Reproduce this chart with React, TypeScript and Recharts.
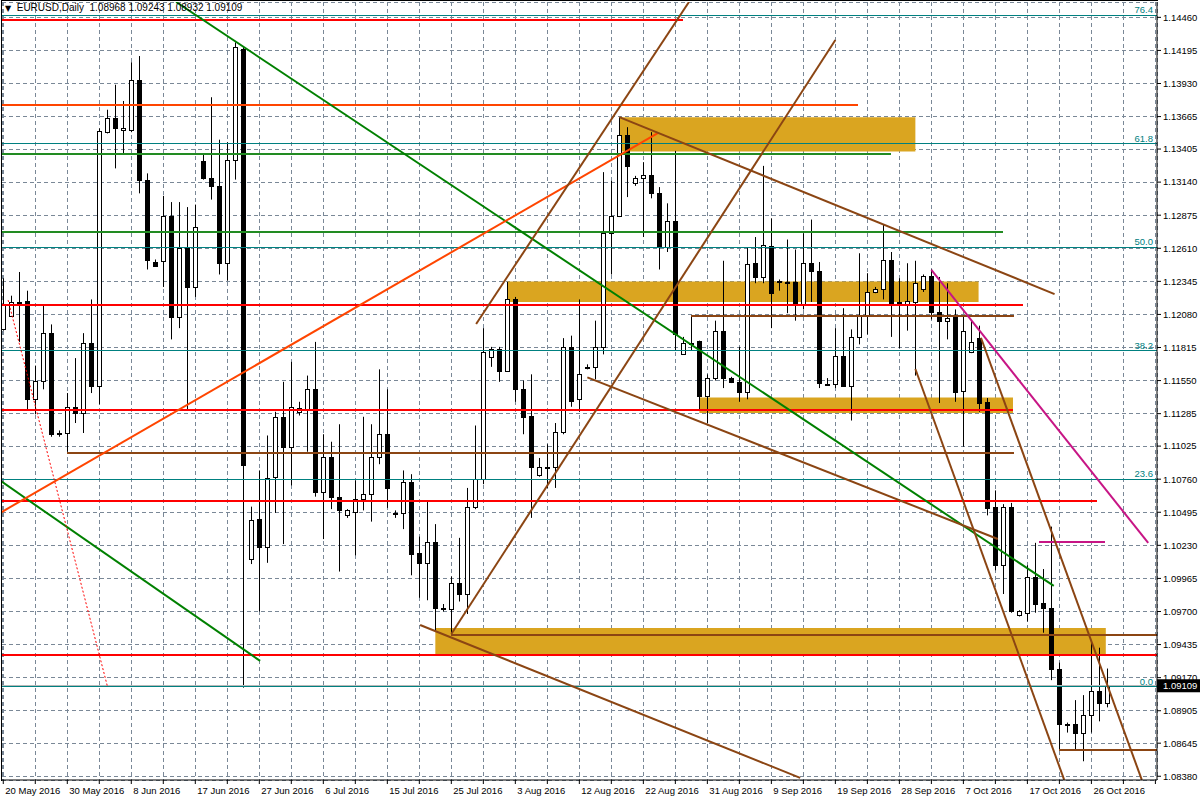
import React from 'react'
import { ComposedChart, Bar, XAxis, YAxis, CartesianGrid, ReferenceLine, ReferenceArea } from 'recharts'

// daily bars, 20 May 2016 .. 28 Oct 2016 (MT4 with Sunday bars)
const opens = [
   1.1196, 1.1207, 1.1218, 1.1219, 1.1140, 1.1155, 1.1193, 1.1112, 1.1113, 1.1134,
   1.1129, 1.1185, 1.1151, 1.1354, 1.1365, 1.1356, 1.1356, 1.1396, 1.1316, 1.1250,
   1.1251, 1.1287, 1.1206, 1.1261, 1.1230, 1.1331, 1.1317, 1.1311, 1.1249, 1.1332,
   1.1421, 1.1012, 1.1044, 1.1022, 1.1078, 1.1126, 1.1102, 1.1130, 1.1132, 1.1148,
   1.1066, 1.1094, 1.1062, 1.1047, 1.1050, 1.1060, 1.1064, 1.1094, 1.1112, 1.1049,
   1.1049, 1.1074, 1.1017, 1.1009, 1.1026, 1.0973, 1.0972, 1.0993, 1.0984, 1.1054,
   1.1076, 1.1174, 1.1180, 1.1163, 1.1220, 1.1148, 1.1127, 1.1079, 1.1085, 1.1086,
   1.1114, 1.1182, 1.1140, 1.1166, 1.1166, 1.1182, 1.1273, 1.1287, 1.1352, 1.1313,
   1.1317, 1.1320, 1.1305, 1.1262, 1.1283, 1.1176, 1.1185, 1.1187, 1.1143, 1.1157,
   1.1195, 1.1157, 1.1154, 1.1146, 1.1249, 1.1238, 1.1263, 1.1234, 1.1234, 1.1234,
   1.1216, 1.1249, 1.1243, 1.1152, 1.1152, 1.1175, 1.1151, 1.1190, 1.1207, 1.1226,
   1.1228, 1.1252, 1.1218, 1.1216, 1.1218, 1.1228, 1.1239, 1.1210, 1.1203, 1.1206,
   1.1147, 1.1178, 1.1189, 1.1138, 1.1054, 1.1007, 1.1054, 1.0967, 1.0969, 1.0998,
   1.0977, 1.0973, 1.0924, 1.0880, 1.0880, 1.0873, 1.0887, 1.0906, 1.08968,
]
const highs = [
   1.1237, 1.1223, 1.1242, 1.1227, 1.1167, 1.1215, 1.1200, 1.1115, 1.1145, 1.1173,
   1.1193, 1.1220, 1.1357, 1.1372, 1.1392, 1.1379, 1.1410, 1.1415, 1.1321, 1.1252,
   1.1303, 1.1298, 1.1298, 1.1294, 1.1296, 1.1336, 1.1382, 1.1348, 1.1346, 1.1426,
   1.1423, 1.1054, 1.1083, 1.1111, 1.1130, 1.1154, 1.1170, 1.1138, 1.1159, 1.1186,
   1.1112, 1.1106, 1.1120, 1.1052, 1.1075, 1.1126, 1.1120, 1.1164, 1.1148, 1.1051,
   1.1083, 1.1080, 1.1030, 1.1058, 1.1040, 1.0976, 1.0998, 1.1029, 1.1069, 1.1119,
   1.1197, 1.1182, 1.1182, 1.1234, 1.1222, 1.1155, 1.1160, 1.1093, 1.1104, 1.1121,
   1.1189, 1.1191, 1.1220, 1.1168, 1.1203, 1.1322, 1.1315, 1.1366, 1.1358, 1.1319,
   1.1330, 1.1354, 1.1310, 1.1297, 1.1339, 1.1190, 1.1207, 1.1187, 1.1160, 1.1203,
   1.1251, 1.1158, 1.1182, 1.1262, 1.1270, 1.1327, 1.1285, 1.1236, 1.1268, 1.1260,
   1.1273, 1.1284, 1.1250, 1.1157, 1.1197, 1.1213, 1.1196, 1.1257, 1.1241, 1.1230,
   1.1280, 1.1258, 1.1237, 1.1249, 1.1251, 1.1240, 1.1244, 1.1238, 1.1233, 1.1212,
   1.1206, 1.1203, 1.1199, 1.1141, 1.1067, 1.1056, 1.1057, 1.0971, 1.1007, 1.1025,
   1.1004, 1.1038, 1.0929, 1.0881, 1.0899, 1.0903, 1.0945, 1.0941, 1.09243,
]
const lows = [
   1.1195, 1.1206, 1.1186, 1.1132, 1.1128, 1.1148, 1.1110, 1.1110, 1.1098, 1.1121,
   1.1113, 1.1145, 1.1136, 1.1353, 1.1325, 1.1337, 1.1354, 1.1305, 1.1244, 1.1246,
   1.1230, 1.1188, 1.1197, 1.1131, 1.1222, 1.1316, 1.1300, 1.1240, 1.1235, 1.1316,
   1.0909, 1.1008, 1.0970, 1.1009, 1.1049, 1.1024, 1.1071, 1.1127, 1.1098, 1.1062,
   1.1028, 1.1052, 1.1002, 1.1045, 1.1015, 1.1051, 1.1042, 1.1088, 1.1053, 1.1045,
   1.1036, 1.0999, 1.0981, 1.0979, 1.0954, 1.0970, 1.0952, 1.0978, 1.0968, 1.1052,
   1.1072, 1.1166, 1.1154, 1.1162, 1.1138, 1.1112, 1.1045, 1.1078, 1.1069, 1.1069,
   1.1112, 1.1134, 1.1130, 1.1164, 1.1156, 1.1176, 1.1240, 1.1286, 1.1302, 1.1311,
   1.1270, 1.1301, 1.1244, 1.1258, 1.1179, 1.1176, 1.1179, 1.1131, 1.1121, 1.1155,
   1.1149, 1.1153, 1.1138, 1.1140, 1.1233, 1.1233, 1.1197, 1.1227, 1.1209, 1.1203,
   1.1212, 1.1218, 1.1149, 1.1151, 1.1149, 1.1150, 1.1123, 1.1184, 1.1192, 1.1225,
   1.1220, 1.1190, 1.1181, 1.1195, 1.1159, 1.1226, 1.1204, 1.1137, 1.1188, 1.1138,
   1.1102, 1.1177, 1.1130, 1.1047, 1.1003, 1.0984, 1.0969, 1.0966, 1.0962, 1.0969,
   1.0953, 1.0915, 1.0859, 1.0873, 1.0859, 1.0850, 1.0873, 1.0882, 1.08932,
]
const closes = [
   1.1216, 1.1218, 1.1217, 1.1140, 1.1155, 1.1193, 1.1112, 1.1113, 1.1134, 1.1129,
   1.1185, 1.1151, 1.1355, 1.1365, 1.1357, 1.1357, 1.1396, 1.1316, 1.1252, 1.1247,
   1.1287, 1.1206, 1.1261, 1.1230, 1.1278, 1.1317, 1.1311, 1.1249, 1.1332, 1.1422,
   1.1087, 1.1043, 1.1022, 1.1077, 1.1126, 1.1102, 1.1134, 1.1133, 1.1148, 1.1066,
   1.1094, 1.1062, 1.1051, 1.1051, 1.1060, 1.1064, 1.1094, 1.1112, 1.1069, 1.1049,
   1.1074, 1.1016, 1.1009, 1.1026, 1.0973, 1.0973, 1.0993, 1.0984, 1.1054, 1.1076,
   1.1178, 1.1180, 1.1163, 1.1220, 1.1148, 1.1126, 1.1086, 1.1086, 1.1086, 1.1114,
   1.1182, 1.1139, 1.1160, 1.1166, 1.1182, 1.1273, 1.1287, 1.1352, 1.1327, 1.1317,
   1.1320, 1.1305, 1.1262, 1.1283, 1.1192, 1.1185, 1.1185, 1.1143, 1.1157, 1.1195,
   1.1157, 1.1154, 1.1146, 1.1248, 1.1238, 1.1264, 1.1225, 1.1235, 1.1233, 1.1216,
   1.1249, 1.1243, 1.1153, 1.1152, 1.1175, 1.1151, 1.1190, 1.1207, 1.1226, 1.1228,
   1.1252, 1.1217, 1.1216, 1.1219, 1.1233, 1.1239, 1.1210, 1.1203, 1.1205, 1.1146,
   1.1195, 1.1186, 1.1137, 1.1053, 1.1007, 1.1054, 1.0970, 1.0970, 1.0998, 1.0976,
   1.0973, 1.0924, 1.0880, 1.0880, 1.0873, 1.0887, 1.0906, 1.0897, 1.09109,
]

// one label every 8 bars
const dateLabels = [
   '20 May 2016', '30 May 2016', '8 Jun 2016', '17 Jun 2016', '27 Jun 2016', '6 Jul 2016',
   '15 Jul 2016', '25 Jul 2016', '3 Aug 2016', '12 Aug 2016', '22 Aug 2016', '31 Aug 2016',
   '9 Sep 2016', '19 Sep 2016', '28 Sep 2016', '7 Oct 2016', '17 Oct 2016', '26 Oct 2016',
]
const gridBars = [
   0, 4, 8, 12, 16, 20, 24, 28, 32, 36, 40, 44, 48, 52, 56, 60, 64, 68, 72, 76, 80, 84, 88, 92,
   96, 100, 104, 108, 112, 116, 120, 124, 128, 132, 136, 140, 144,
]
const priceTicks = [
   1.14460, 1.14195, 1.13930, 1.13665, 1.13405, 1.13140, 1.12875, 1.12610, 1.12345, 1.12080,
   1.11815, 1.11550, 1.11285, 1.11025, 1.10760, 1.10495, 1.10230, 1.09965, 1.09700, 1.09435,
   1.09170, 1.08905, 1.08645, 1.08380,
]
const lastPrice = 1.09109

const fibLevels = [
   { label: '76.4', price: 1.14478 },
   { label: '61.8', price: 1.13449 },
   { label: '50.0', price: 1.12618 },
   { label: '38.2', price: 1.11787 },
   { label: '23.6', price: 1.10758 },
   { label: '0.0', price: 1.09096 },
]

// horizontal levels: from bar, to bar, price
const levels = [
   { from: -1, to: 85, price: 1.14438, color: '#ff0000' },
   { from: -1, to: 106.8, price: 1.13760, color: '#ff4500' },
   { from: -1, to: 111, price: 1.13365, color: '#228b22' },
   { from: -1, to: 125, price: 1.12740, color: '#228b22' },
   { from: -1, to: 127.4, price: 1.12156, color: '#ff0000' },
   { from: 86, to: 126.3, price: 1.12071, color: '#8b4513' },
   { from: -1, to: 126.2, price: 1.11316, color: '#ff0000' },
   { from: 8, to: 126.3, price: 1.10973, color: '#8b4513' },
   { from: -1, to: 136.7, price: 1.10588, color: '#ff0000' },
   { from: 56, to: 150, price: 1.09515, color: '#8b4513' },
   { from: -1, to: 150, price: 1.09352, color: '#ff0000' },
   { from: 132, to: 150, price: 1.08591, color: '#8b4513' },
   { from: 129.4, to: 137.7, price: 1.10254, color: '#c71585' },
]

// trend lines: bar/price end points
const trends = [
   { x1: 21.6, p1: 1.14583, x2: 131.3, p2: 1.09905, color: '#008000' },
   { x1: -0.2, p1: 1.10740, x2: 32.1, p2: 1.09304, color: '#008000' },
   { x1: -0.2, p1: 1.10497, x2: 81.8, p2: 1.13533, color: '#ff4500' },
   { x1: 59.1, p1: 1.12003, x2: 85.7, p2: 1.14583, color: '#8b4513' },
   { x1: 56, p1: 1.09520, x2: 104, p2: 1.14278, color: '#8b4513' },
   { x1: 77, p1: 1.13661, x2: 131.4, p2: 1.12243, color: '#8b4513' },
   { x1: 73, p1: 1.11576, x2: 124.3, p2: 1.10281, color: '#8b4513' },
   { x1: 52.1, p1: 1.09592, x2: 99.6, p2: 1.08367, color: '#8b4513' },
   { x1: 114, p1: 1.11643, x2: 132.6, p2: 1.08351, color: '#8b4513' },
   { x1: 122.2, p1: 1.11893, x2: 142.3, p2: 1.08351, color: '#8b4513' },
   { x1: 116, p1: 1.12436, x2: 143.1, p2: 1.10249, color: '#c71585' },
]
const dottedTrend = { x1: 0.6, p1: 1.12195, x2: 13, p2: 1.09104 }

const zones = [
   { x1: 77, x2: 114, top: 1.13660, bottom: 1.13385 },
   { x1: 63, x2: 121.9, top: 1.12343, bottom: 1.12180 },
   { x1: 87, x2: 126.2, top: 1.11415, bottom: 1.11290 },
   { x1: 54, x2: 137.8, top: 1.09568, bottom: 1.09350 },
]

const candles = opens.map((o, i) => ({
   i,
   o,
   h: highs[i],
   l: lows[i],
   c: closes[i],
   range: [lows[i], highs[i]],
}))

const FONT = '"Liberation Sans", Arial, sans-serif'
const FIB = '#008080'

const Candle = (props: any) => {
   const { x, y, width, height, payload } = props
   const { o, h, l, c } = payload
   const cx = Math.floor(x + width / 2) + 0.5
   const k = h === l ? 0 : height / (h - l)
   const yo = y + (h - o) * k
   const yc = y + (h - c) * k
   const top = Math.round(Math.min(yo, yc)) + 0.5
   const bot = Math.round(Math.max(yo, yc)) + 0.5
   return (
      <g>
         <line x1={ cx } x2={ cx } y1={ y } y2={ y + height } stroke="#000" strokeWidth={ 1 } />
         <rect
            x={ cx - 2 }
            y={ top }
            width={ 4 }
            height={ Math.max(bot - top, 1) }
            fill={ c >= o ? '#fff' : '#000' }
            stroke="#000"
            strokeWidth={ 1 }
         />
      </g>
   )
}

const DateTick = (props: any) => {
   const { x, y, payload } = props
   if (payload.value % 8 !== 0) return null
   const text = dateLabels[payload.value / 8]
   if (!text) return null
   return (
      <text x={ x + 2 } y={ y + 8 } fontSize={ 9.5 } fontFamily={ FONT } fill="#000">
         { text }
      </text>
   )
}

const FibLabel = (props: any) => {
   const { viewBox, text } = props
   return (
      <text x={ viewBox.x + viewBox.width - 4 } y={ viewBox.y - 2 } textAnchor="end" fontSize={ 9.5 } fontFamily={ FONT } fill={ FIB }>
         { text }
      </text>
   )
}

const PriceBox = (props: any) => {
   const { viewBox } = props
   const x = viewBox.x + viewBox.width
   return (
      <g>
         <rect x={ x } y={ viewBox.y - 6 } width={ 43 } height={ 13 } fill="#000" />
         <text x={ x + 6 } y={ viewBox.y + 4 } fontSize={ 9.5 } fontFamily={ FONT } fill="#fff">
            { lastPrice.toFixed(5) }
         </text>
      </g>
   )
}

export default function App() {
   return (
      <div style={ { position: 'absolute', left: 0, top: 0, width: 1200, height: 800, background: '#fff' } }>
         <ComposedChart
            width={ 1200 }
            height={ 800 }
            data={ candles }
            margin={ { top: 2, right: 0, bottom: 0, left: 2 } }
         >
            <CartesianGrid stroke="#7a8897" strokeDasharray="4 3" strokeWidth={ 1 } shapeRendering="crispEdges" />
            <XAxis
               dataKey="i"
               type="number"
               domain={ [-0.16, 144.2] }
               allowDataOverflow
               ticks={ gridBars }
               interval={ 0 }
               height={ 20 }
               tickSize={ 4 }
               tickMargin={ 2 }
               stroke="#000"
               tick={ <DateTick /> }
            />
            <YAxis
               orientation="right"
               type="number"
               domain={ [1.08350, 1.14583] }
               allowDataOverflow
               ticks={ priceTicks }
               interval={ 0 }
               width={ 43 }
               tickSize={ 4 }
               tickMargin={ 2 }
               stroke="#000"
               tickFormatter={ (v: number) => v.toFixed(5) }
               tick={ { fontSize: 9.5, fontFamily: FONT, fill: '#000' } }
            />
            { zones.map((z, n) => (
               <ReferenceArea
                  key={ 'z' + n }
                  x1={ z.x1 }
                  x2={ z.x2 }
                  y1={ z.bottom }
                  y2={ z.top }
                  fill="#daa520"
                  fillOpacity={ 1 }
                  stroke="none"
                  ifOverflow="hidden"
               />
            )) }
            <ReferenceLine y={ lastPrice } stroke="#b8b8b8" strokeWidth={ 1 } shapeRendering="crispEdges" label={ <PriceBox /> } />
            { fibLevels.map(f => (
               <ReferenceLine
                  key={ 'f' + f.label }
                  y={ f.price }
                  stroke={ FIB }
                  strokeWidth={ 1 }
                  shapeRendering="crispEdges"
                  ifOverflow="visible"
                  label={ <FibLabel text={ f.label } /> }
               />
            )) }
            <Bar dataKey="range" barSize={ 5 } isAnimationActive={ false } shape={ (p: any) => <Candle { ...p } /> } />
            { levels.map((lv, n) => (
               <ReferenceLine
                  key={ 'h' + n }
                  segment={ [{ x: lv.from, y: lv.price }, { x: lv.to, y: lv.price }] }
                  stroke={ lv.color }
                  strokeWidth={ 2 }
                  shapeRendering="crispEdges"
                  ifOverflow="hidden"
               />
            )) }
            { trends.map((t, n) => (
               <ReferenceLine
                  key={ 't' + n }
                  segment={ [{ x: t.x1, y: t.p1 }, { x: t.x2, y: t.p2 }] }
                  stroke={ t.color }
                  strokeWidth={ 2 }
                  ifOverflow="hidden"
               />
            )) }
            <ReferenceLine
               segment={ [{ x: dottedTrend.x1, y: dottedTrend.p1 }, { x: dottedTrend.x2, y: dottedTrend.p2 }] }
               stroke="#ff0000"
               strokeWidth={ 1 }
               strokeDasharray="2 2"
               ifOverflow="hidden"
            />
         </ComposedChart>
         <div
            style={ {
               position: 'absolute',
               left: 1,
               top: 0,
               width: 1156,
               height: 780,
               borderLeft: '1px solid #000',
               borderTop: '1px solid #000',
               pointerEvents: 'none',
            } }
         />
         <div
            style={ {
               position: 'absolute',
               left: 5,
               top: 2,
               fontFamily: FONT,
               fontSize: 10,
               lineHeight: '12px',
               color: '#000',
               whiteSpace: 'pre',
               background: 'transparent',
            } }
         >
            <span style={ { fontFamily: '"DejaVu Sans", sans-serif', fontSize: 8 } }>▼</span>
            { '  EURUSD,Daily  1.08968 1.09243 1.08932 1.09109' }
         </div>
      </div>
   )
}
